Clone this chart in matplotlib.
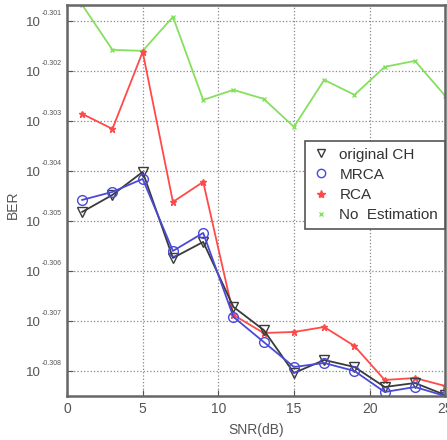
import matplotlib.pyplot as plt
from matplotlib.lines import Line2D

plt.rcParams['font.family'] = ['Liberation Sans', 'DejaVu Sans']

snr = [1, 3, 5, 7, 9, 11, 13, 15, 17, 19, 21, 23, 25]
# log10(BER)
original_ch = [-0.30482, -0.30448, -0.30402, -0.30574, -0.30542, -0.30672, -0.30718,
               -0.30804, -0.30778, -0.30792, -0.30832, -0.30824, -0.30848]
mrca = [-0.30458, -0.30442, -0.30416, -0.30560, -0.30524, -0.30692, -0.30742,
        -0.30792, -0.30784, -0.30800, -0.30842, -0.30832, -0.30850]
rca = [-0.30286, -0.30316, -0.30162, -0.30462, -0.30422, -0.30688, -0.30724,
       -0.30722, -0.30712, -0.30750, -0.30818, -0.30814, -0.30830]
no_est = [-0.30068, -0.30158, -0.30160, -0.30092, -0.30258, -0.30238, -0.30256,
          -0.30312, -0.30218, -0.30248, -0.30192, -0.30180, -0.30250]

yticks = [-0.301, -0.302, -0.303, -0.304, -0.305, -0.306, -0.307, -0.308]
ytick_exps = ['-0.301', '-0.302', '-0.303', '-0.304', '-0.305', '-0.306', '-0.307', '-0.308']
xticks = [0, 5, 10, 15, 20, 25]

c_black = '#3a3a3a'
c_blue = '#4a4ad6'
c_red = '#ff4a4a'
c_green = '#86e060'
c_text = '#555555'

fig = plt.figure(figsize=(4.47, 4.40), dpi=100)
ax = fig.add_axes([0.150, 0.100, 0.846, 0.889])

ax.plot(snr, no_est, color=c_green, marker='x', ms=3, lw=1.3)
ax.plot(snr, rca, color=c_red, marker='*', ms=5, lw=1.3)
ax.plot(snr, original_ch, color=c_black, marker='v', ms=7, mfc='none', lw=1.3, mew=1)
ax.plot(snr, mrca, color=c_blue, marker='o', ms=7, mfc='none', lw=1.3, mew=1)

ax.set_xlim(0, 25)
ax.set_ylim(-0.3085, -0.30068)
ax.set_xticks(xticks)
ax.set_yticks(yticks)
ax.set_yticklabels([])
ax.tick_params(direction='in', colors=c_text, length=4)
ax.tick_params(axis='x', labelsize=10, pad=4)
ax.grid(True, linestyle=':', color='#888888', lw=0.9)
for s in ax.spines.values():
    s.set_color('#666666')
    s.set_linewidth(1.8)

# MATLAB-style "10^exp" tick labels: big base, tiny exponent
ytrans = ax.get_yaxis_transform()
for t, e in zip(yticks, ytick_exps):
    ax.annotate('10', xy=(0, t), xycoords=ytrans, xytext=(-26, -2),
                textcoords='offset pixels', ha='right', va='center',
                fontsize=9.5, color=c_text, annotation_clip=False)
    ax.annotate(e, xy=(0, t), xycoords=ytrans, xytext=(-25, 7),
                textcoords='offset pixels', ha='left', va='center',
                fontsize=5.0, color=c_text, annotation_clip=False)

ax.set_xlabel('SNR(dB)', color=c_text, fontsize=10)
ax.xaxis.set_label_coords(0.5, -0.07)
ax.set_ylabel('BER', color=c_text, fontsize=10)
ax.yaxis.set_label_coords(-0.124, 0.49)

handles = [
    Line2D([], [], color=c_black, marker='v', mfc='none', ms=6, ls='none'),
    Line2D([], [], color=c_blue, marker='o', mfc='none', ms=6, ls='none'),
    Line2D([], [], color=c_red, marker='*', ms=6, ls='none'),
    Line2D([], [], color=c_green, marker='x', ms=3, ls='none'),
]
leg = ax.legend(handles, ['original CH', 'MRCA', 'RCA', 'No  Estimation'],
                loc='upper left', bbox_to_anchor=(0.609, 0.672), fontsize=11,
                frameon=True, fancybox=False, edgecolor='#555555', framealpha=1,
                handlelength=1.2, handletextpad=0.6, labelspacing=0.4, borderpad=0.45)
leg.get_frame().set_linewidth(1.2)
for t in leg.get_texts():
    t.set_color('#333333')

fig.savefig('out.png', dpi=100)
